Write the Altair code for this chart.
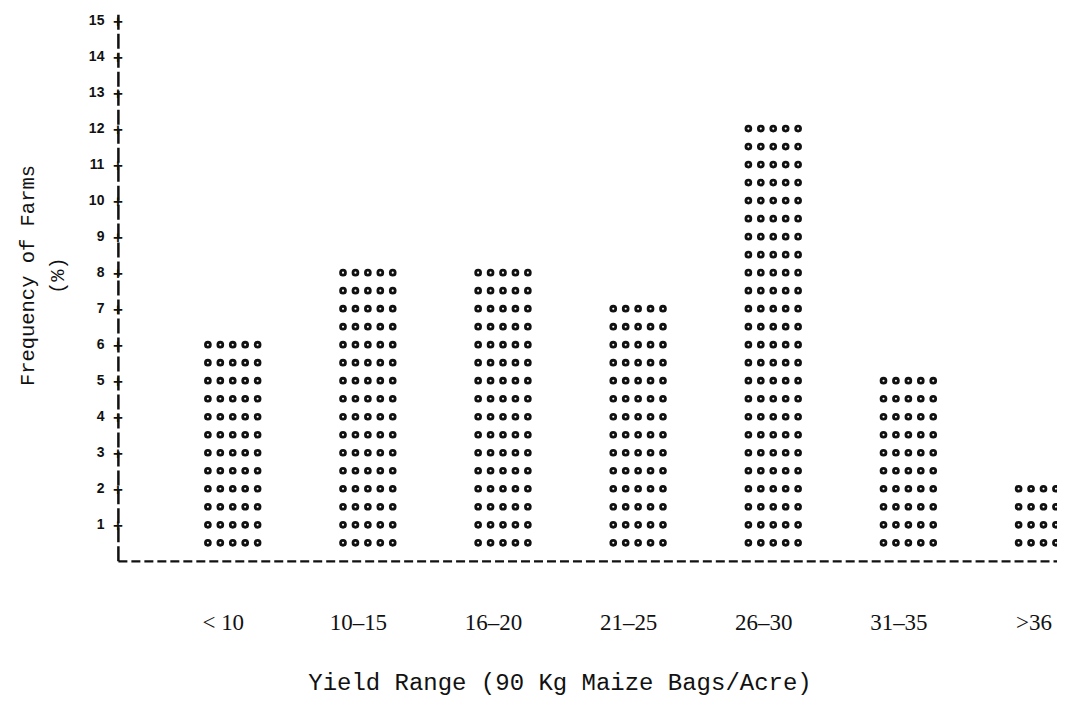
import altair as alt
import pandas as pd

# ---- data ----
categories = ["< 10", "10–15", "16–20", "21–25", "26–30", "31–35", ">36"]
frequency = [6, 8, 8, 7, 12, 5, 2]          # % of farms
y_ticks = list(range(1, 16))

# each bar is typed as rows of 5 asterisks, one row per half percent
DOTS_PER_ROW = 5
COL_STEP = 0.092
recs = []
for i, (cat, f) in enumerate(zip(categories, frequency)):
    for r in range(int(round(f * 2))):
        for c in range(DOTS_PER_ROW):
            recs.append({"cat": cat, "idx": i,
                         "pos": i + (c - 2) * COL_STEP,
                         "level": 0.5 * (r + 1)})
dots = pd.DataFrame(recs)
ticks_df = pd.DataFrame({"level": y_ticks})

X_MIN, X_MAX = -0.85, 6.10
label_expr = "[" + ",".join("'" + c + "'" for c in categories) + "][datum.value]"

x_scale = alt.Scale(domain=[X_MIN, X_MAX], nice=False, zero=False)
x_axis = alt.Axis(
    values=list(range(len(categories))),
    labelExpr=label_expr, labelOverlap=False,
    ticks=False, grid=False,
    domainColor="#111", domainWidth=2.2, domainDash=[9, 4],
    labelFont="Liberation Serif", labelFontSize=23, labelColor="#111",
    labelPadding=62, labelOffset=-10, labelBaseline="middle",
    title="Yield Range (90 Kg Maize Bags/Acre)",
    titleFont="Liberation Mono", titleFontSize=24, titleFontWeight="normal",
    titleColor="#111", titleX=442, titleY=122, titleBaseline="middle",
    titleAlign="center",
)
y_scale = alt.Scale(domain=[0, 15.2], nice=False)
y_axis = alt.Axis(
    values=y_ticks, ticks=False, grid=False, labelOverlap=False,
    domainColor="#111", domainWidth=2.5, domainDash=[15, 4],
    labelFont="Liberation Sans", labelFontWeight="bold", labelFontSize=14,
    labelColor="#111", labelPadding=14,
    title=["Frequency of Farms", "(%)"],
    titleFont="Liberation Mono", titleFontSize=20.5, titleFontWeight="normal",
    titleColor="#111", titleAngle=270, titleX=-90, titleY=262,
    titleLineHeight=30, titleBaseline="middle", titleAlign="center",
)

dot_layer = alt.Chart(dots).mark_point(
    shape="circle", filled=False, size=24, strokeWidth=2.8,
    color="#111", opacity=1, clip=True,
).encode(
    x=alt.X("pos:Q", scale=x_scale, axis=x_axis),
    y=alt.Y("level:Q", scale=y_scale, axis=y_axis),
)

plus_layer = alt.Chart(ticks_df).mark_text(
    text="+", font="Liberation Sans", fontWeight="bold", fontSize=17,
    color="#111", baseline="middle", align="center", dy=1,
).encode(
    x=alt.X(datum=X_MIN, type="quantitative", scale=x_scale, axis=x_axis),
    y=alt.Y("level:Q", scale=y_scale, axis=y_axis),
)

chart = alt.layer(dot_layer, plus_layer).properties(
    width=940, height=548,
    padding={"left": 110, "top": 5, "right": 0, "bottom": 140},
    autosize=alt.AutoSizeParams(type="none"),
    background="white",
).configure_view(stroke=None).configure_axis(labelOverlap=False)

chart.save("out.html", embed_options={"renderer": "svg", "actions": False})
